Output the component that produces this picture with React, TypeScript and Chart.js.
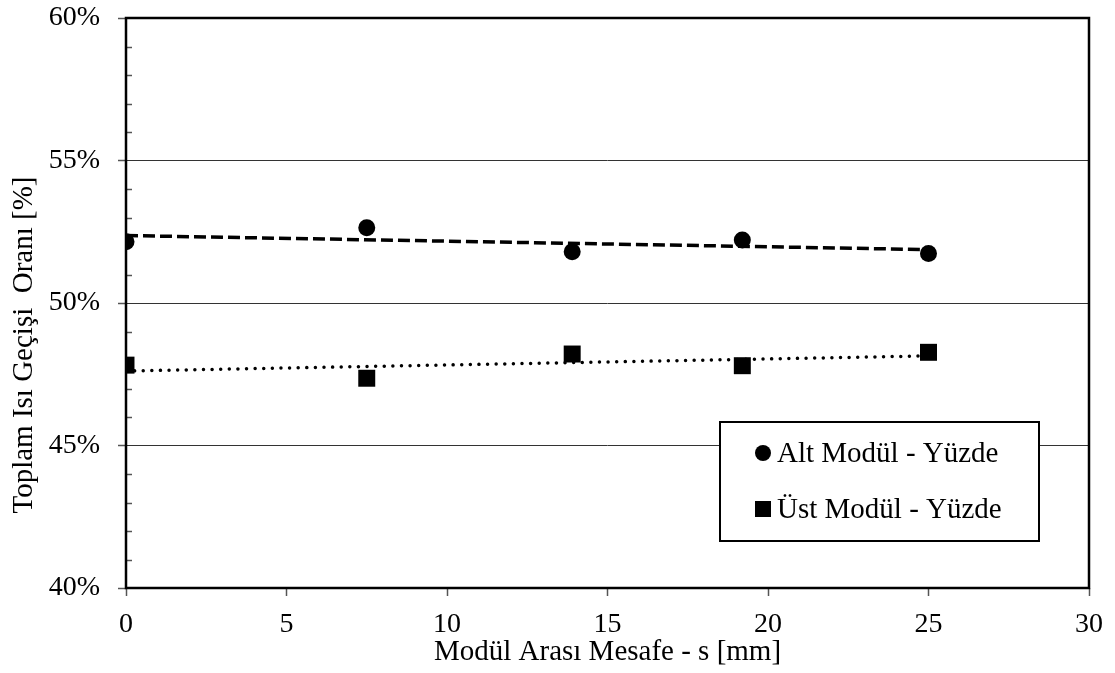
import React, { useEffect, useRef } from 'react';
import { Chart, registerables } from 'chart.js';

Chart.register(...registerables);

// ---- Data ----
const xValues = [0, 7.5, 13.9, 19.2, 25];
const altValues = [52.15, 52.64, 51.8, 52.21, 51.74];
const ustValues = [47.82, 47.36, 48.21, 47.8, 48.27];
const seriesLabels = ['Alt Modül - Yüzde', 'Üst Modül - Yüzde'];
const xTitle = 'Modül Arası Mesafe - s [mm]';
const yTitle = 'Toplam Isı Geçişi  Oranı [%]';
const xRange = [0, 30];
const xStep = 5;
const yRange = [40, 60];
const yStep = 5;
const yMinorStep = 1;

const FONT = '"Liberation Serif", "Times New Roman", serif';

function linearFit(xs: number[], ys: number[]) {
  const n = xs.length;
  const mx = xs.reduce((a, b) => a + b, 0) / n;
  const my = ys.reduce((a, b) => a + b, 0) / n;
  let sxy = 0;
  let sxx = 0;
  for (let i = 0; i < n; i++) {
    sxy += (xs[i] - mx) * (ys[i] - my);
    sxx += (xs[i] - mx) * (xs[i] - mx);
  }
  const slope = sxy / sxx;
  return { slope, intercept: my - slope * mx };
}

function trendPoints(xs: number[], ys: number[]) {
  const f = linearFit(xs, ys);
  const x0 = Math.min(...xs);
  const x1 = Math.max(...xs);
  return [
    { x: x0, y: f.intercept + f.slope * x0 },
    { x: x1, y: f.intercept + f.slope * x1 },
  ];
}

const toPoints = (xs: number[], ys: number[]) => xs.map((x, i) => ({ x, y: ys[i] }));

const decorPlugin = {
  id: 'decor',
  beforeDatasetsDraw(chart: any) {
    const { ctx, chartArea } = chart;
    const ys = chart.scales.y;
    ctx.save();
    // minor inward ticks on the y axis
    ctx.strokeStyle = '#555';
    ctx.lineWidth = 1.5;
    for (let v = yRange[0]; v <= yRange[1]; v += yMinorStep) {
      if (v % yStep === 0) continue;
      const py = Math.round(ys.getPixelForValue(v)) + 0.5;
      ctx.beginPath();
      ctx.moveTo(chartArea.left, py);
      ctx.lineTo(chartArea.left + 6, py);
      ctx.stroke();
    }
    // frame
    ctx.strokeStyle = '#000';
    ctx.lineWidth = 2.5;
    ctx.strokeRect(chartArea.left, chartArea.top, chartArea.right - chartArea.left, chartArea.bottom - chartArea.top);
    // y title
    ctx.fillStyle = '#000';
    ctx.font = `29px ${FONT}`;
    ctx.textAlign = 'center';
    ctx.textBaseline = 'middle';
    ctx.translate(24, (chartArea.top + chartArea.bottom) / 2 + 42);
    ctx.rotate(-Math.PI / 2);
    ctx.fillText(yTitle, 0, 0);
    ctx.restore();
  },
  afterDatasetsDraw(chart: any) {
    const { ctx } = chart;
    const bx = 720;
    const by = 422;
    const bw = 319;
    const bh = 119;
    ctx.save();
    ctx.fillStyle = '#fff';
    ctx.fillRect(bx, by, bw, bh);
    ctx.strokeStyle = '#000';
    ctx.lineWidth = 2;
    ctx.strokeRect(bx, by, bw, bh);
    const rows = [
      { label: chart.data.datasets[0].label, style: 'circle', y: by + 31 },
      { label: chart.data.datasets[1].label, style: 'rect', y: by + 87 },
    ];
    ctx.font = `29px ${FONT}`;
    ctx.textAlign = 'left';
    ctx.textBaseline = 'middle';
    rows.forEach((r) => {
      ctx.fillStyle = '#000';
      if (r.style === 'circle') {
        ctx.beginPath();
        ctx.arc(763, r.y, 8, 0, Math.PI * 2);
        ctx.fill();
      } else {
        ctx.fillRect(755, r.y - 8, 16, 16);
      }
      ctx.fillText(r.label, 777, r.y + 1);
    });
    ctx.restore();
  },
};

export default function App() {
  const canvasRef = useRef<HTMLCanvasElement | null>(null);

  useEffect(() => {
    if (!canvasRef.current) return;
    const chart = new Chart(canvasRef.current, {
      type: 'scatter',
      data: {
        datasets: [
          {
            label: seriesLabels[0],
            data: toPoints(xValues, altValues),
            pointStyle: 'circle',
            pointRadius: 8.5,
            backgroundColor: '#000',
            borderColor: '#000',
            borderWidth: 0,
            showLine: false,
          },
          {
            label: seriesLabels[1],
            data: toPoints(xValues, ustValues),
            pointStyle: 'rect',
            pointRadius: 12,
            backgroundColor: '#000',
            borderColor: '#000',
            borderWidth: 0,
            showLine: false,
          },
          {
            label: 'trend-alt',
            data: trendPoints(xValues, altValues),
            showLine: true,
            pointRadius: 0,
            borderColor: '#000',
            borderWidth: 3.5,
            borderDash: [12, 5],
            borderCapStyle: 'butt',
          },
          {
            label: 'trend-ust',
            data: trendPoints(xValues, ustValues),
            showLine: true,
            pointRadius: 0,
            borderColor: '#000',
            borderWidth: 3.5,
            borderDash: [0.01, 8.6],
            borderCapStyle: 'round',
          },
        ],
      },
      options: {
        animation: false,
        responsive: false,
        devicePixelRatio: 1,
        layout: { padding: { top: 18, right: 26, left: 0, bottom: 0 } },
        plugins: {
          legend: { display: false },
          tooltip: { enabled: false },
        },
        scales: {
          x: {
            type: 'linear',
            min: xRange[0],
            max: xRange[1],
            ticks: {
              stepSize: xStep,
              color: '#000',
              font: { family: FONT, size: 28 },
              padding: 12,
              maxRotation: 0,
            },
            grid: {
              drawOnChartArea: false,
              drawTicks: true,
              tickLength: 8,
              tickColor: '#555',
              tickWidth: 1.5,
            },
            border: { display: false },
            title: {
              display: true,
              text: xTitle,
              color: '#000',
              font: { family: FONT, size: 29 },
              padding: { top: 0, bottom: 3 },
            },
            afterFit: (scale: any) => {
              scale.height = 85;
              scale.paddingLeft = 0;
              scale.paddingRight = 0;
            },
          },
          y: {
            type: 'linear',
            min: yRange[0],
            max: yRange[1],
            ticks: {
              stepSize: yStep,
              color: '#000',
              font: { family: FONT, size: 28 },
              padding: 18,
              callback: (v: any) => `${v}%`,
            },
            grid: {
              drawOnChartArea: true,
              color: '#333',
              lineWidth: 1,
              drawTicks: true,
              tickLength: 8,
              tickColor: '#555',
              tickWidth: 1.5,
            },
            border: { display: false },
            afterFit: (scale: any) => {
              scale.width = 126;
              scale.paddingTop = 0;
              scale.paddingBottom = 0;
            },
          },
        },
      },
      plugins: [decorPlugin],
    } as any);
    return () => chart.destroy();
  }, []);

  return (
    <div style={{ position: 'absolute', left: 0, top: 0, width: 1115, height: 673, background: '#fff' }}>
      <canvas ref={canvasRef} width={1115} height={673} style={{ width: 1115, height: 673, display: 'block' }} />
    </div>
  );
}
